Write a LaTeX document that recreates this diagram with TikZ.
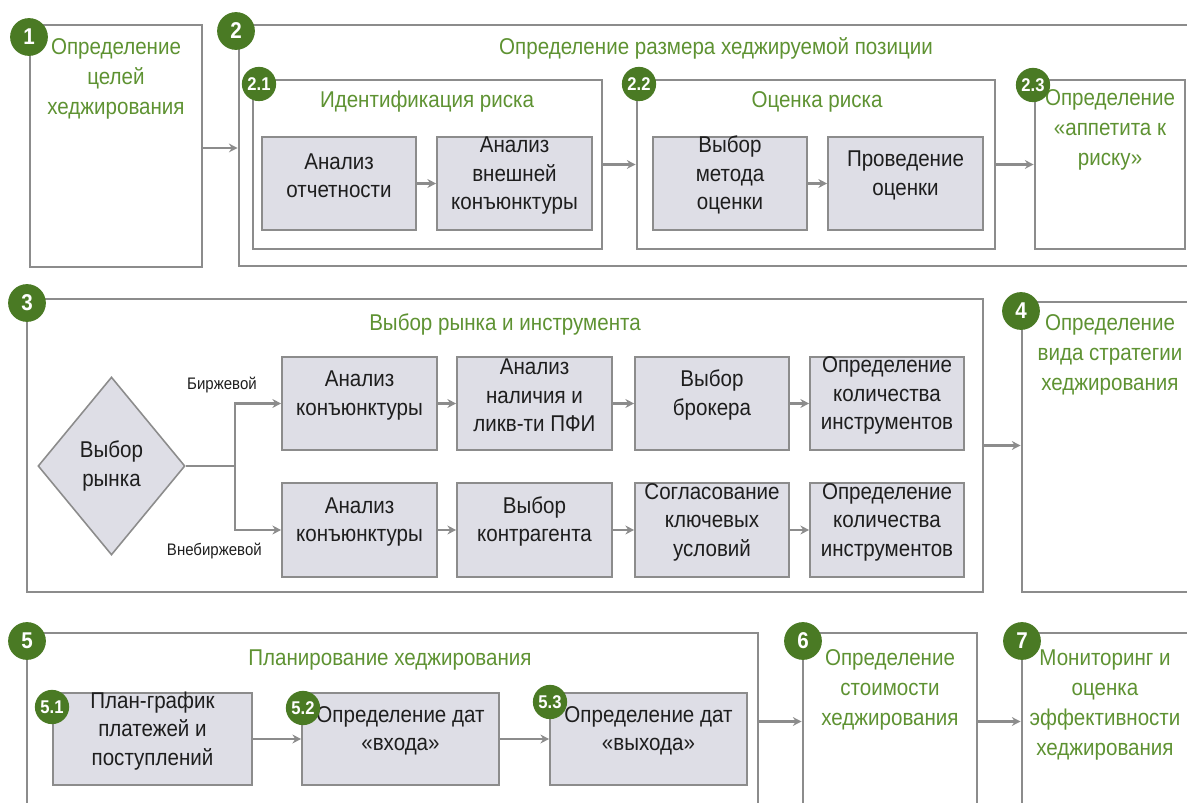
\documentclass[tikz,border=0pt]{standalone}
\usepackage{fontspec}
\setmainfont{Liberation Sans}[FakeStretch=0.9]
\usepackage{xcolor}
\usetikzlibrary{arrows.meta, fit, shapes.geometric}
\definecolor{framegray}{HTML}{8C8C8C}
\definecolor{boxfill}{HTML}{DEDEE6}
\definecolor{titlegreen}{HTML}{5E9232}
\definecolor{badgegreen}{HTML}{4A7A24}
\definecolor{textdark}{HTML}{1E1E1E}

\begin{document}
\begin{tikzpicture}[x=0.02cm, y=-0.02cm,
    frame/.style={draw=framegray, line width=1.5pt, inner sep=0pt},
    stepbox/.style={draw=framegray, fill=boxfill, line width=0.9pt, inner sep=0pt, align=center, text=textdark, font=\fontsize{13}{16.2}\selectfont},
    title/.style={text=titlegreen, align=center, font=\fontsize{13}{17}\selectfont},
    badge/.style={circle, fill=badgegreen, text=white, inner sep=0pt, minimum size=21.5pt, font=\bfseries\fontsize{13}{13}\selectfont},
    subbadge/.style={badge, minimum size=19.5pt, font=\bfseries\fontsize{10.5}{10.5}\selectfont},
    arr/.style={draw=framegray, line width=1.2pt, -{Stealth[length=5pt, width=5pt]}},
    branch/.style={font=\fontsize{9.5}{11}\selectfont, text=textdark}]
        \useasboundingbox (0,0) rectangle (1187,803);
        \clip (0,0) rectangle (1187,803);

        % stage 1 and 2
        \node[frame, fit={(30,25) (202,267)}] (b1) {};
        \node[frame, fit={(239,25) (1200,266)}] (b2) {};
        \node[frame, fit={(253,80) (602,249)}] (b21) {};
        \node[frame, fit={(637,80) (995,249)}] (b22) {};
        \node[frame, fit={(1035,80) (1185,249)}] (b23) {};
        \node[title] (t1) at (116,79) {Определение\\целей\\хеджирования};
        \node[title] (t2) at (716,48) {Определение размера хеджируемой позиции};
        \node[title] (t21) at (427,102) {Идентификация риска};
        \node[title] (t22) at (817,102) {Оценка риска};
        \node[title] (t23) at (1110,130) {Определение\\«аппетита к\\риску»};
        \node[stepbox, fit={(262,137) (416,230)}] (a1) {Анализ\\отчетности};
        \node[stepbox, fit={(437,137) (592,230)}] (a2) {Анализ\\внешней\\конъюнктуры};
        \node[stepbox, fit={(653,137) (807,230)}] (e1) {Выбор\\метода\\оценки};
        \node[stepbox, fit={(828,137) (983,230)}] (e2) {Проведение\\оценки};
        \draw[arr] (b1.east |- 0,148) -- (b2.west |- 0,148);
        \draw[arr] (a1) -- (a2);
        \draw[arr] (e1) -- (e2);
        \draw[arr] (b21.east) -- (b22.west);
        \draw[arr] (b22.east) -- (b23.west);

        % stage 3 and 4
        \node[frame, fit={(27,299) (983,592)}] (b3) {};
        \node[frame, fit={(1022,302) (1200,592)}] (b4) {};
        \node[title] (t3) at (505,324) {Выбор рынка и инструмента};
        \node[title] (t4) at (1110,355) {Определение\\вида стратегии\\хеджирования};
        \node[diamond, draw=framegray, fill=boxfill, line width=0.9pt, inner sep=0pt,
              minimum width=147*0.02cm, minimum height=178*0.02cm, align=center,
              text=textdark, font=\fontsize{13}{17}\selectfont] (dia) at (111.5,466) {Выбор\\рынка};
        \node[stepbox, fit={(282,357) (437,450)}] (r1a) {Анализ\\конъюнктуры};
        \node[stepbox, fit={(457,357) (612,450)}] (r1b) {Анализ\\наличия и\\ликв-ти ПФИ};
        \node[stepbox, fit={(635,357) (789,450)}] (r1c) {Выбор\\брокера};
        \node[stepbox, fit={(810,357) (964,450)}] (r1d) {Определение\\количества\\инструментов};
        \node[stepbox, fit={(282,483) (437,577)}] (r2a) {Анализ\\конъюнктуры};
        \node[stepbox, fit={(457,483) (612,577)}] (r2b) {Выбор\\контрагента};
        \node[stepbox, fit={(635,483) (789,577)}] (r2c) {Согласование\\ключевых\\условий};
        \node[stepbox, fit={(810,483) (964,577)}] (r2d) {Определение\\количества\\инструментов};
        \node[branch, anchor=east] (l1) at (263,385) {Биржевой};
        \node[branch, anchor=east] (l2) at (268,551) {Внебиржевой};
        \coordinate (fork) at (235,466);
        \draw[framegray, line width=1.2pt] (dia.east) -- (fork);
        \draw[arr] (fork) |- (r1a.west);
        \draw[arr] (fork) |- (r2a.west);
        \draw[arr] (r1a) -- (r1b);
        \draw[arr] (r1b) -- (r1c);
        \draw[arr] (r1c) -- (r1d);
        \draw[arr] (r2a) -- (r2b);
        \draw[arr] (r2b) -- (r2c);
        \draw[arr] (r2c) -- (r2d);
        \draw[arr] (b3.east) -- (b4.west |- b3.east);

        % stage 5, 6 and 7
        \node[frame, fit={(27,633) (758,810)}] (b5) {};
        \node[frame, fit={(803,633) (977,810)}] (b6) {};
        \node[frame, fit={(1022,633) (1200,810)}] (b7) {};
        \node[title] (t5) at (390,660) {Планирование хеджирования};
        \node[title] (t6) at (890,690) {Определение\\стоимости\\хеджирования};
        \node[title] (t7) at (1105,705) {Мониторинг и\\оценка\\эффективности\\хеджирования};
        \node[stepbox, fit={(53,693) (252,785)}] (p1) {План-график\\платежей и\\поступлений};
        \node[stepbox, fit={(302,693) (499,785)}] (p2) {Определение дат\\«входа»};
        \node[stepbox, fit={(550,693) (747,785)}] (p3) {Определение дат\\«выхода»};
        \draw[arr] (p1) -- (p2);
        \draw[arr] (p2) -- (p3);
        \draw[arr] (b5.east) -- (b6.west);
        \draw[arr] (b6.east) -- (b7.west);

        % number badges
        \node[badge] (n1) at (29,37) {1};
        \node[badge] (n2) at (236,31) {2};
        \node[subbadge] (n21) at (259,84) {2.1};
        \node[subbadge] (n22) at (639,84) {2.2};
        \node[subbadge] (n23) at (1033,85) {2.3};
        \node[badge] (n3) at (27,303) {3};
        \node[badge] (n4) at (1021,311) {4};
        \node[badge] (n5) at (27,641) {5};
        \node[subbadge] (n51) at (52,707) {5.1};
        \node[subbadge] (n52) at (303,708) {5.2};
        \node[subbadge] (n53) at (550,702) {5.3};
        \node[badge] (n6) at (803,641) {6};
        \node[badge] (n7) at (1022,641) {7};
    \end{tikzpicture}
\end{document}
